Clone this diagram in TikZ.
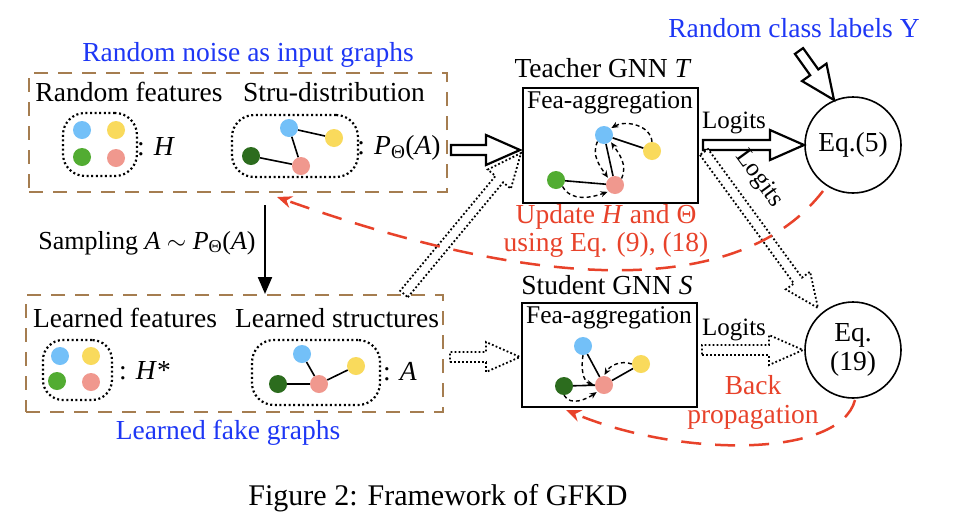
\documentclass[tikz,border=0pt]{standalone}
\usepackage{fontspec}
\setmainfont{Liberation Serif}
\usetikzlibrary{arrows.meta,calc}
\definecolor{nblue}{RGB}{115,192,248}
\definecolor{nyellow}{RGB}{249,218,92}
\definecolor{ngreen}{RGB}{82,172,50}
\definecolor{ndgreen}{RGB}{44,108,30}
\definecolor{npink}{RGB}{240,152,142}
\definecolor{tblue}{RGB}{30,55,245}
\definecolor{tred}{RGB}{232,66,42}
\definecolor{brn}{RGB}{165,125,80}
\newcommand\fatarrow[3][]{%
  \path let \p1=(#2), \p2=(#3), \n1={atan2(\y2-\y1,\x2-\x1)}, \n2={veclen(\x2-\x1,\y2-\y1)} in \pgfextra{\xdef\faang{\n1}\xdef\falen{\n2}};
  \draw[#1, shift={(#2)}, rotate=\faang] (0,5) -- (\falen-34,5) -- (\falen-34,15) -- (\falen,0) -- (\falen-34,-15) -- (\falen-34,-5) -- (0,-5) -- cycle;
}
\tikzset{
  lbl/.style={inner sep=0pt, font=\fontsize{27.5}{28}\selectfont},
  sublbl/.style={inner sep=0pt, font=\fontsize{25.5}{28}\selectfont},
  bluelbl/.style={lbl, text=tblue},
  redlbl/.style={lbl, text=tred, align=center},
  gnode/.style={circle, minimum size=18pt, inner sep=0pt},
  grp/.style={draw=brn, line width=2.2pt, dash pattern=on 14pt off 10pt},
  cloud/.style={draw, line width=2.2pt, dash pattern=on 2pt off 2.6pt, rounded corners=22pt},
  gnn/.style={draw, line width=2.4pt},
  eqc/.style={draw, circle, line width=1.6pt, minimum size=96pt, inner sep=0pt, align=center, font=\fontsize{27.5}{29}\selectfont},
  fat/.style={line width=2.2pt, fill=white},
  fatdot/.style={line width=1.8pt, dash pattern=on 1.8pt off 2.2pt, fill=white},
  agg/.style={line width=1.4pt, dash pattern=on 4pt off 3pt, -{Stealth[length=7pt,width=6pt]}, shorten >=1pt},
  redarr/.style={tred, line width=2.5pt, dash pattern=on 20pt off 14pt, -{Stealth[length=15pt,width=12pt]}},
}
\begin{document}
\begin{tikzpicture}[x=1pt,y=-1pt]
\useasboundingbox[fill=white] (0,0) rectangle (957,528);

% ---------- top group ----------
\node[bluelbl] (tlabel) at (248,55) {Random noise as input graphs};
\node[grp, minimum width=418pt, minimum height=119pt, inner sep=0pt] (topbox) at (238,132.5) {};
\node[lbl] (rf) at (129,92) {Random features};
\node[lbl] (sd) at (334,92) {Stru-distribution};
\node[cloud, minimum width=74pt, minimum height=63pt] (c1) at (100,144.5) {};
\node[gnode, fill=nblue] (c1b) at (82,130) {};
\node[gnode, fill=nyellow] (c1y) at (116,130) {};
\node[gnode, fill=ngreen] (c1g) at (82,157) {};
\node[gnode, fill=npink] (c1p) at (116,158) {};
\node[lbl] (hlab) at (156,147) {: \textit{H}};
\node[cloud, minimum width=126pt, minimum height=62pt] (c2) at (295,146) {};
\node[gnode, fill=nblue] (c2b) at (289,128) {};
\node[gnode, fill=nyellow] (c2y) at (334,138) {};
\node[gnode, fill=ndgreen] (c2g) at (251,156) {};
\node[gnode, fill=npink] (c2p) at (301,166) {};
\draw[line width=1.6pt] (c2b) -- (c2y) (c2b) -- (c2p) (c2g) -- (c2p);
\node[lbl] (plab) at (399,148) {: \textit{P}\textsubscript{Θ}(\textit{A})};

% ---------- sampling ----------
\coordinate (smps) at (265,205);
\coordinate (smpe) at (265,294);
\draw[line width=2.2pt, -{Triangle[length=17pt,width=14pt]}] (smps) -- (smpe);
\node[inner sep=0pt, font=\fontsize{26}{28}\selectfont] (smpl) at (147,243) {Sampling \textit{A} $\sim$ \textit{P}\textsubscript{Θ}(\textit{A})};

% ---------- lower group ----------
\node[grp, minimum width=417pt, minimum height=117pt, inner sep=0pt] (botbox) at (234.5,353.5) {};
\node[lbl] (lf) at (125,318) {Learned features};
\node[lbl] (ls) at (337,318) {Learned structures};
\node[cloud, minimum width=69pt, minimum height=60pt, rounded corners=20pt] (c3) at (77.5,370) {};
\node[gnode, fill=nblue] (c3b) at (60,356) {};
\node[gnode, fill=nyellow] (c3y) at (91,356) {};
\node[gnode, fill=ngreen] (c3g) at (57,381) {};
\node[gnode, fill=npink] (c3p) at (91,382) {};
\node[lbl] (hslab) at (145,371) {: \textit{H}*};
\node[cloud, minimum width=128pt, minimum height=65pt] (c4) at (316,372.5) {};
\node[gnode, fill=nblue] (c4b) at (302,354) {};
\node[gnode, fill=nyellow] (c4y) at (356,366) {};
\node[gnode, fill=ndgreen] (c4g) at (278,384) {};
\node[gnode, fill=npink] (c4p) at (319,384) {};
\draw[line width=1.6pt] (c4b) -- (c4p) (c4y) -- (c4p) (c4g) -- (c4p);
\node[lbl] (alab) at (400,372) {: \textit{A}};
\node[bluelbl] (blabel) at (228,433) {Learned fake graphs};

% ---------- teacher ----------
\node[lbl] (tname) at (603,68) {Teacher GNN \textit{T}};
\node[gnn, minimum width=175pt, minimum height=115pt, inner sep=0pt] (teacher) at (610.5,145.5) {};
\node[sublbl] (tfa) at (610,103) {Fea-aggregation};
\node[gnode, fill=nblue] (tB) at (604,135) {};
\node[gnode, fill=nyellow] (tY) at (652,151) {};
\node[gnode, fill=ngreen] (tG) at (556,180) {};
\node[gnode, fill=npink] (tP) at (615,185) {};
\draw[line width=1.6pt] (tB) -- (tY) (tB) -- (tP) (tG) -- (tP);
\draw[agg] (tY.north) to[out=95,in=30] (tB.north east);
\draw[agg] (tB.south west) to[out=245,in=125] (tP.north west);
\draw[agg] (tP.north east) to[out=65,in=-55] (tB.south east);
\draw[agg] (tG.south east) to[out=-60,in=200] (tP.south west);

% ---------- student ----------
\node[lbl] (sname) at (607,285) {Student GNN \textit{S}};
\node[gnn, minimum width=175pt, minimum height=104pt, inner sep=0pt] (student) at (609.5,355) {};
\node[sublbl] (sfa) at (609,318) {Fea-aggregation};
\node[gnode, fill=nblue] (sB) at (583,346) {};
\node[gnode, fill=nyellow] (sY) at (641,364) {};
\node[gnode, fill=ndgreen] (sG) at (564,386) {};
\node[gnode, fill=npink] (sP) at (604,385) {};
\draw[line width=1.6pt] (sB) -- (sP) (sY) -- (sP) (sG) -- (sP);
\draw[agg] (sB.south) to[out=-100,in=165] (sP.west);
\draw[agg] (sY.west) to[out=160,in=60] (sP.north);
\draw[agg] (sG.south) to[out=-60,in=215] (sP.south west);

% ---------- equations ----------
\node[eqc] (eq5) at (853,145) {Eq.(5)};
\node[eqc] (eq19) at (853,350) {Eq.\\(19)};
\node[bluelbl] (ylabel) at (794,28) {Random class labels Y};

% ---------- fat arrows ----------
\coordinate (a1s) at (451,150); \coordinate (a1e) at (520,150);
\coordinate (a2s) at (799,51); \coordinate (a2e) at (834,100);
\coordinate (a3s) at (703,145); \coordinate (a3e) at (804,145);
\coordinate (a4s) at (704,152); \coordinate (a4e) at (818,308);
\coordinate (a5s) at (404,294); \coordinate (a5e) at (521,153);
\coordinate (a6s) at (450,357); \coordinate (a6e) at (520,357);
\coordinate (a7s) at (702,350); \coordinate (a7e) at (803,350);
\fatarrow[fat]{a1s}{a1e}
\fatarrow[fat]{a2s}{a2e}
\fatarrow[fat]{a3s}{a3e}
\fatarrow[fatdot]{a4s}{a4e}
\fatarrow[fatdot]{a5s}{a5e}
\fatarrow[fatdot]{a6s}{a6e}
\fatarrow[fatdot]{a7s}{a7e}
\node[inner sep=0pt, font=\fontsize{25}{27}\selectfont] (lg1) at (734,123) {Logits};
\node[inner sep=0pt, font=\fontsize{25}{27}\selectfont, rotate=-54] (lg2) at (759,179) {Logits};
\node[inner sep=0pt, font=\fontsize{25}{27}\selectfont] (lg3) at (734,330) {Logits};

% ---------- red feedback ----------
\node[redlbl] (upd) at (606,231) {Update \textit{H} and Θ\\using Eq. (9), (18)};
\node[redlbl, font=\fontsize{27.5}{29}\selectfont] (bp) at (753,402) {Back\\propagation};
\coordinate (r1s) at (823,191); \coordinate (r1e) at (277,197);
\coordinate (r2s) at (855,400); \coordinate (r2e) at (566,410);
\draw[redarr] (r1s) .. controls (745,292) and (560,298) .. (r1e);
\draw[redarr] (r2s) .. controls (840,458) and (680,458) .. (r2e);

% ---------- caption ----------
\node[inner sep=0pt, font=\fontsize{30}{32}\selectfont] (cap) at (438,498) {Figure 2: Framework of GFKD};
\end{tikzpicture}
\end{document}
